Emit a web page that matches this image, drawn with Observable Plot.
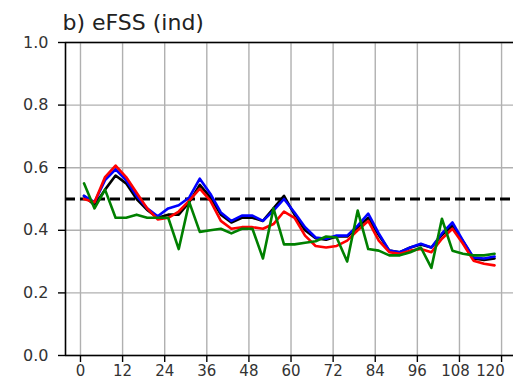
<!DOCTYPE html>
<html>
<head>
<meta charset="utf-8">
<script src="https://cdn.jsdelivr.net/npm/d3@7"></script>
<script src="https://cdn.jsdelivr.net/npm/@observablehq/plot@0.6"></script>
<style>
  html, body { margin: 0; padding: 0; background: white; }
  #chart { width: 513px; height: 385px; }
</style>
</head>
<body>
<div id="chart"></div>
<script>
// Forecast lead time (hours)
const hours = [1, 4, 7, 10, 13, 16, 19, 22, 25, 28, 31, 34, 37, 40, 43, 46, 49, 52, 55, 58,
               61, 64, 67, 70, 73, 76, 79, 82, 85, 88, 91, 94, 97, 100, 103, 106, 109, 112, 115, 118];

// eFSS per experiment
const lineBlack = [0.51, 0.48, 0.53, 0.575, 0.55, 0.50, 0.465, 0.44, 0.45, 0.45,
                   0.49, 0.545, 0.505, 0.45, 0.425, 0.44, 0.44, 0.43, 0.47, 0.51,
                   0.45, 0.40, 0.375, 0.37, 0.38, 0.38, 0.41, 0.44, 0.385, 0.335,
                   0.33, 0.345, 0.355, 0.345, 0.385, 0.415, 0.365, 0.31, 0.305, 0.31];
const lineBlue  = [0.51, 0.49, 0.56, 0.595, 0.56, 0.51, 0.47, 0.445, 0.47, 0.48,
                   0.505, 0.565, 0.517, 0.457, 0.43, 0.447, 0.447, 0.43, 0.463, 0.50,
                   0.457, 0.41, 0.377, 0.373, 0.383, 0.383, 0.415, 0.453, 0.39, 0.335,
                   0.33, 0.345, 0.357, 0.345, 0.39, 0.425, 0.367, 0.313, 0.31, 0.316];
const lineRed   = [0.50, 0.49, 0.57, 0.607, 0.57, 0.52, 0.47, 0.435, 0.44, 0.46,
                   0.495, 0.533, 0.495, 0.43, 0.405, 0.41, 0.41, 0.405, 0.42, 0.46,
                   0.44, 0.383, 0.35, 0.345, 0.35, 0.367, 0.40, 0.43, 0.367, 0.33,
                   0.325, 0.335, 0.34, 0.33, 0.373, 0.405, 0.357, 0.303, 0.293, 0.288];
const lineGreen = [0.55, 0.47, 0.53, 0.44, 0.44, 0.45, 0.44, 0.44, 0.44, 0.34,
                   0.49, 0.395, 0.40, 0.405, 0.39, 0.405, 0.405, 0.31, 0.47, 0.355,
                   0.355, 0.36, 0.365, 0.38, 0.377, 0.30, 0.463, 0.34, 0.335, 0.32,
                   0.32, 0.33, 0.345, 0.28, 0.437, 0.335, 0.325, 0.32, 0.32, 0.325];

const seriesNames = ["black", "blue", "red", "green"];
const seriesColors = ["#000000", "#0000ff", "#ff0000", "#008000"];
const seriesValues = [lineBlack, lineBlue, lineRed, lineGreen];

const xTicks = [0, 12, 24, 36, 48, 60, 72, 84, 96, 108, 120];
const yTicks = [0.0, 0.2, 0.4, 0.6, 0.8, 1.0];
const xDomain = [-4.27, 123.4];
const yDomain = [0, 1];
const threshold = [0.5];
const titleText = ["b) eFSS (ind)"];

const rows = [];
seriesValues.forEach((vals, i) => {
  vals.forEach((v, j) => rows.push({series: seriesNames[i], hour: hours[j], value: v}));
});

// x tick labels: the last two are nudged left so they stay inside the figure
const xLabelStyle = {x: d => d, text: d => String(d), frameAnchor: "bottom", lineAnchor: "top",
                     dy: 10, fontSize: 15, fill: "#333"};

const chart = Plot.plot({
  width: 513,
  height: 385,
  marginLeft: 65,
  marginRight: 0,
  marginTop: 42,
  marginBottom: 30,
  x: {domain: xDomain},
  y: {domain: yDomain},
  style: {fontFamily: "DejaVu Sans", fontSize: "16px", background: "white", overflow: "visible"},
  marks: [
    Plot.gridX(xTicks, {stroke: "#b0b0b0", strokeOpacity: 1, strokeWidth: 1.4}),
    Plot.gridY(yTicks, {stroke: "#b0b0b0", strokeOpacity: 1, strokeWidth: 1.4}),
    Plot.ruleY(threshold, {stroke: "black", strokeWidth: 3, strokeDasharray: "10,5"}),
    ...seriesNames.map((name, i) =>
      Plot.line(rows.filter(d => d.series === name), {
        x: "hour", y: "value", stroke: seriesColors[i], strokeWidth: 2.6
      })
    ),
    Plot.ruleY([yDomain[0]], {stroke: "black", strokeWidth: 1.6}),
    Plot.ruleY([yDomain[1]], {stroke: "black", strokeWidth: 1.6}),
    Plot.ruleX([xDomain[0]], {stroke: "black", strokeWidth: 1.6}),
    Plot.axisX(xTicks, {tickSize: 7, tickFormat: () => "", label: null, stroke: "black", strokeWidth: 1.4}),
    Plot.text(xTicks.slice(0, -2), xLabelStyle),
    Plot.text(xTicks.slice(-2, -1), {...xLabelStyle, dx: -4}),
    Plot.text(xTicks.slice(-1), {...xLabelStyle, dx: -11}),
    Plot.axisY(yTicks, {tickSize: 7, tickPadding: 10, label: null, tickFormat: d => d.toFixed(1),
                        stroke: "black", fill: "#333", strokeWidth: 1.4}),
    Plot.text(titleText, {frameAnchor: "top-left", textAnchor: "start", lineAnchor: "bottom",
                          dx: -3, dy: -13, fontSize: 22, fill: "#222"})
  ]
});

document.getElementById("chart").appendChild(chart);
</script>
</body>
</html>
